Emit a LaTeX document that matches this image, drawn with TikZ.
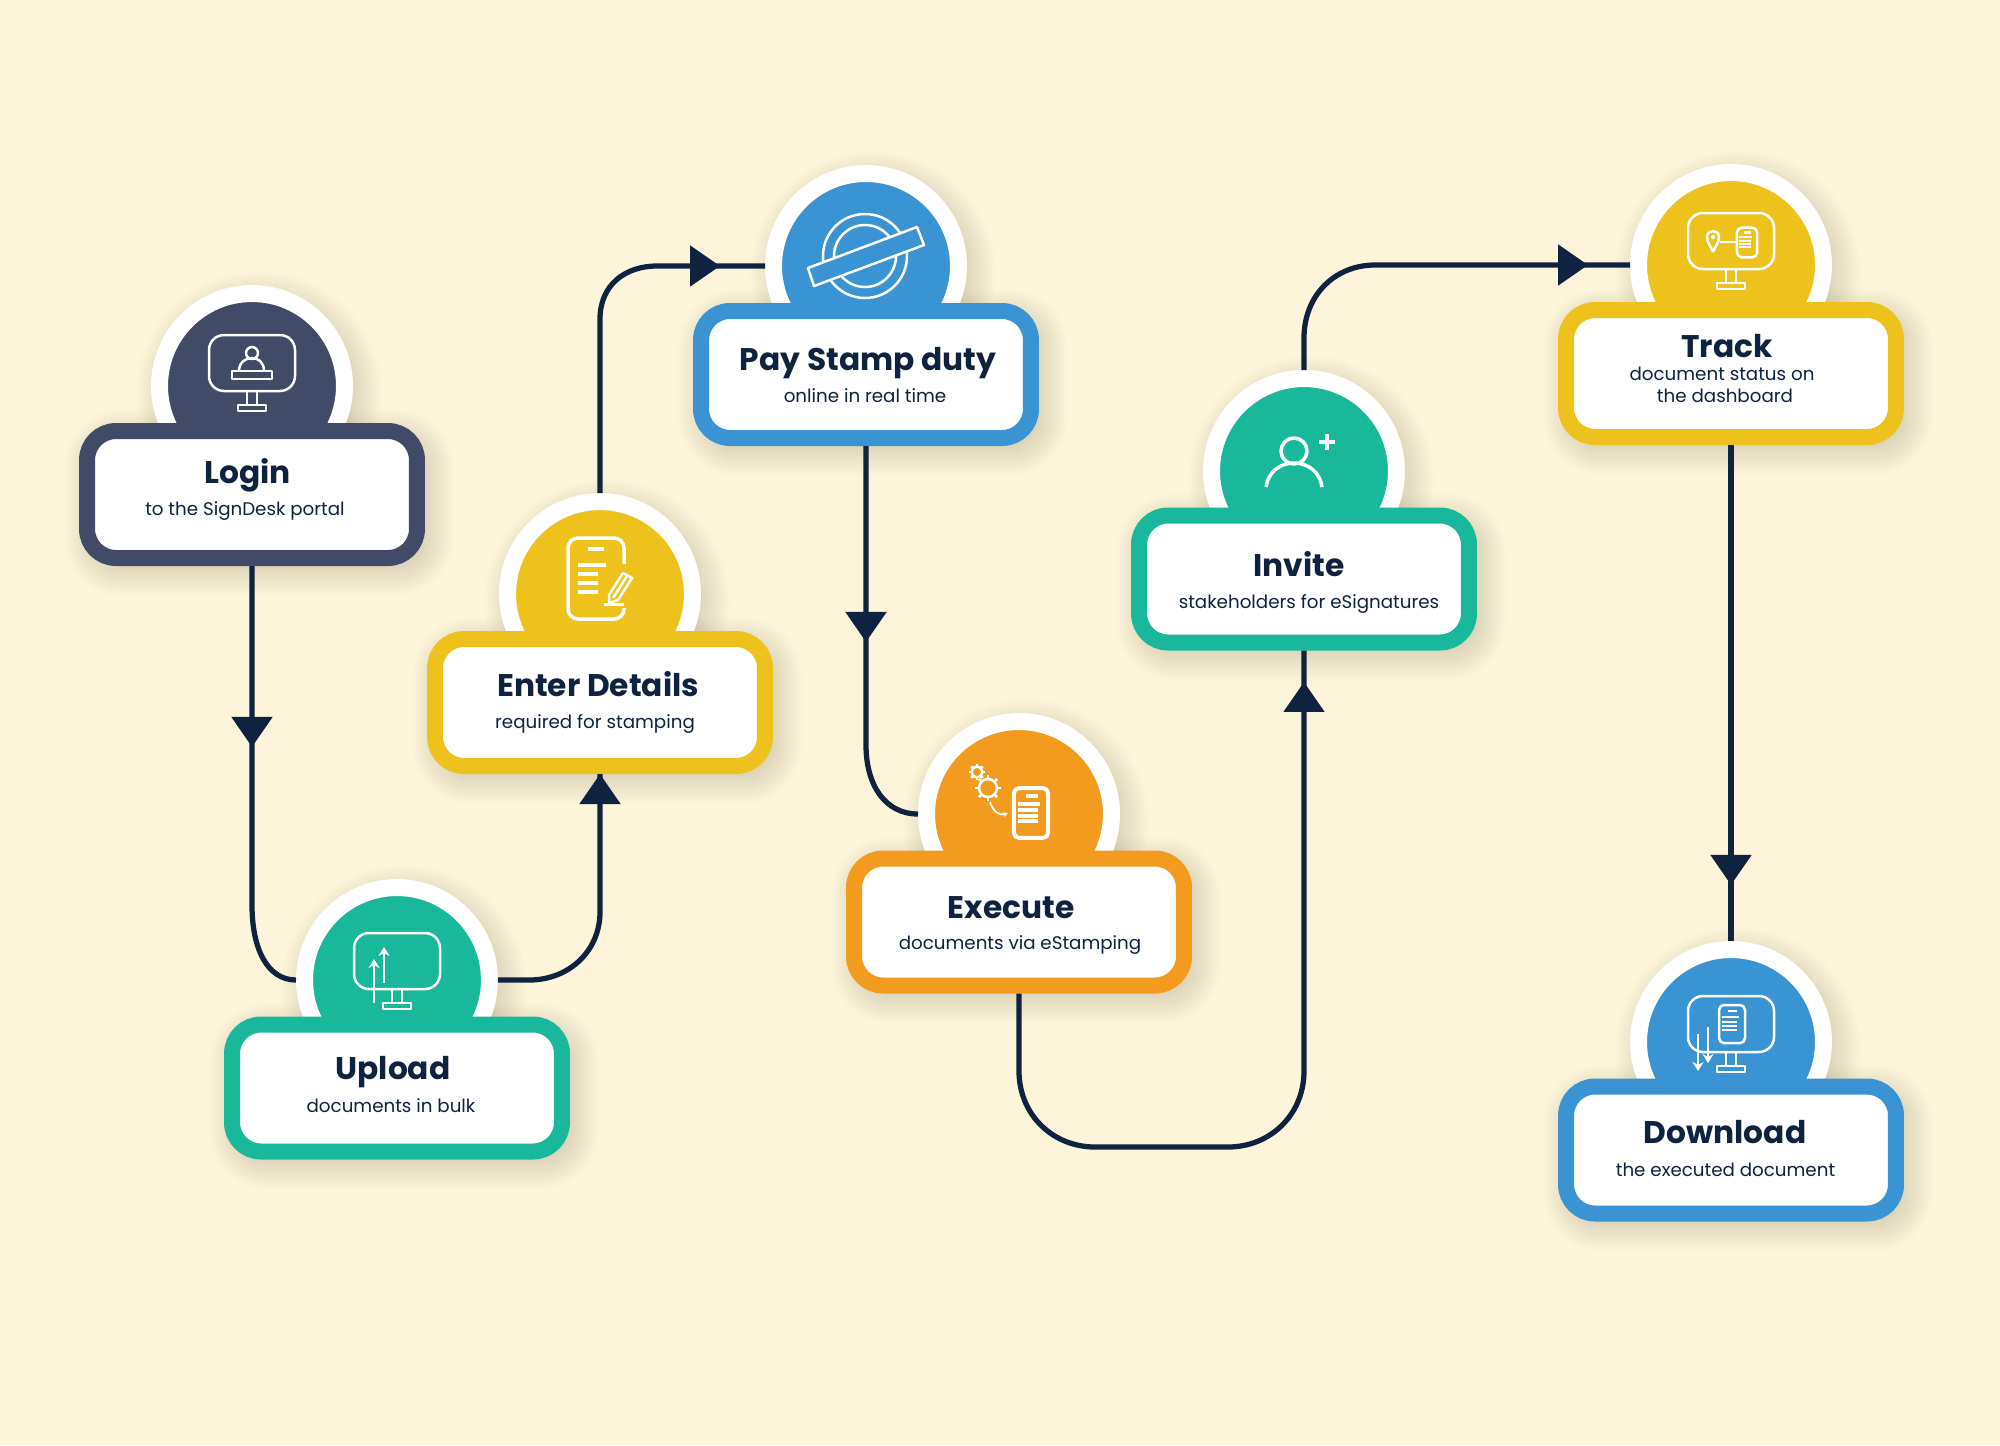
\documentclass[tikz,border=0pt]{standalone}
\usepackage{fontspec}
\setmainfont{Poppins}
\usetikzlibrary{calc, arrows.meta, decorations.markings}
\definecolor{cream}{HTML}{FDF5D9}
\definecolor{navy}{HTML}{0F2240}
\definecolor{slate}{HTML}{414A66}
\definecolor{gold}{HTML}{EEC21D}
\definecolor{sky}{HTML}{3A93D3}
\definecolor{teal}{HTML}{1AB89A}
\definecolor{amber}{HTML}{F29B1E}
\def\steplist{login/252/386/494.5/slate, upload/397/980/1088/teal, enter/600/594/702.5/gold, pay/866/266/374.5/sky, exec/1019/814/922/amber, invite/1304/471/579/teal, track/1731/265/373.5/gold, down/1731/1042/1150/sky}
\tikzstyle{tint}=[black,opacity=.008]
\tikzstyle{disc}=[circle,draw=white,line width=.34cm,minimum size=3.7cm,inner sep=0pt]
\tikzstyle{card}=[rectangle,fill=white,line width=.32cm,minimum width=6.6cm,minimum height=2.54cm,rounded corners=.58cm]
\tikzstyle{title}=[anchor=base,inner sep=0pt,text=navy,font=\fontsize{17.8}{19}\selectfont\bfseries]
\tikzstyle{sub}=[anchor=base,inner sep=0pt,text=navy,font=\fontsize{10.4}{12}\selectfont]
\tikzstyle{icon}=[draw=white,line join=round]
\tikzstyle{flow}=[color=navy,line width=.105cm,postaction={decorate},
  decoration={markings,mark=at position #1 with {\arrow{Triangle[length=.6cm,width=.8cm]}}}]
\tikzset{
  monitor/.pic={
    \draw[icon,rounded corners=.3cm] (-43,-28) rectangle (43,28);
    \draw[icon] (-5,28) -- (-5,42) (5,28) -- (5,42);
    \draw[icon] (-14,42) rectangle (14,48);
  },
  docpage/.pic={
    \draw[icon,rounded corners=.1cm] (-13,-19) rectangle (13,19);
    \draw[icon] (-4,-13) -- (5,-13) (-10,-7) -- (7,-7);
    \foreach \y in {-2,2,6} \draw[icon] (-10,\y) -- (5,\y);
  },
  gearwheel/.pic={
    \draw[icon] (0,0) circle[radius=1];
    \foreach \a in {0,45,...,315} \draw[icon] (\a:1) -- (\a:1.45);
  }
}
\begin{document}
\begin{tikzpicture}[x=.02cm,y=-.02cm,line width=.05cm]
		\fill[cream] (0,0) rectangle (2000,1445);
		\useasboundingbox (0,0) rectangle (2000,1445);

		% Soft shadows, laid under everything
		\foreach \s in {-8,-6,...,22} {
			\pgfmathsetmacro\rr{(37+\s)*.02}
			\foreach \name/\x/\yc/\yk/\col in \steplist {
				\fill[tint] (\x+7,\yc+8) circle[radius=101+\s];
				\fill[tint,rounded corners=\rr cm] (\x-173-\s+7,\yk-71.5-\s+8) rectangle (\x+173+\s+7,\yk+71.5+\s+8);
			}
		}

		% Draw the discs behind the cards
		\foreach \name/\x/\yc/\yk/\col in \steplist
		\node[disc,fill=\col] (\name-c) at (\x,\yc) {};

		% Draw the cards
		\foreach \name/\x/\yc/\yk/\col in \steplist
		\node[card,draw=\col] (\name) at (\x,\yk) {};

		% Titles
		\foreach \name/\x/\y/\txt in {login/247.5/483/Login, upload/393/1079/Upload, enter/598/696/Enter Details, pay/868/370/Pay Stamp duty, exec/1011/918/Execute, invite/1299/576/Invite, track/1727/357/Track, down/1725/1143/Download}
		\node[title] (\name-t) at (\x,\y) {\txt};

		% Captions
		\foreach \name/\x/\y/\txt in {login/245/515/to the SignDesk portal, upload/391/1112/documents in bulk, enter/595/728/required for stamping, pay/865/402/online in real time, exec/1020/949/documents via eStamping, invite/1309/608/stakeholders for eSignatures, track/1722/380/document status on, trackb/1725/402/the dashboard, down/1725.5/1176/the executed document}
		\node[sub] (\name-s) at (\x,\y) {\txt};

		% Connect the steps
		\draw[flow=3.62cm] (login.south) -- (252,905) .. controls (252,950) and (268,980) .. (upload-c.west);
		\draw[flow=1] (upload-c.east) -- (529,980) .. controls (570,980) and (600,950) .. (600,912) -- (enter.south);
		\draw[flow=-.9cm] (enter-c.north) -- (600,319) .. controls (600,285) and (625,266) .. (657,266) -- (pay-c.west);
		\draw[flow=3.92cm] (pay.south) -- (866,745) .. controls (866,785) and (885,814) .. (exec-c.west);
		\draw[flow=-.63cm] (exec.south) -- (1019,1071) .. controls (1019,1115) and (1053,1147) .. (1095,1147) -- (1228,1147) .. controls (1270,1147) and (1304,1115) .. (1304,1071) -- (invite.south);
		\draw[flow=-.84cm] (invite-c.north) -- (1304,338) .. controls (1304,295) and (1335,265) .. (1375,265) -- (track-c.west);
		\draw[flow=8.8cm] (track.south) -- (down-c.north);

		% Login icon
		\pic at (252,363) {monitor};
		\draw[icon] (252,353) circle[radius=6];
		\draw[icon] (239,371) .. controls (239,362) and (246,358) .. (252,358) .. controls (258,358) and (264,362) .. (264,371);
		\draw[icon] (232,371) rectangle (272,379);

		% Upload icon
		\pic at (397,961) {monitor};
		\draw[icon,-{Stealth[length=.18cm,width=.22cm]}] (374,1003) -- (374,959);
		\draw[icon,-{Stealth[length=.18cm,width=.22cm]}] (384,983) -- (384,947);

		% Enter Details icon
		\draw[icon,line width=.07cm,rounded corners=.2cm] (624,564) -- (624,538) -- (568,538) -- (568,619) -- (624,619) -- (624,608);
		\draw[icon,line width=.07cm] (588,549) -- (604,549) (578,565) -- (606,565) (578,574) -- (598,574) (578,583) -- (598,583) (578,592) -- (598,592);
		\draw[icon] (623,573) -- (632,578) -- (618,600) -- (609,603) -- (609,595) -- cycle (627,576) -- (613,598);
		\draw[icon,line width=.06cm] (604,604) -- (624,604);

		% Pay Stamp duty icon
		\draw[icon] (865,256) circle[radius=42];
		\draw[icon] (865,256) circle[radius=31];
		\draw[icon,fill=sky] (808,268) -- (917,227) -- (924,245) -- (814,286) -- cycle;

		% Execute icon
		\pic[scale=9] at (988,788) {gearwheel};
		\pic[scale=5.5] at (977,772) {gearwheel};
		\draw[icon,line width=.035cm,-{Stealth[length=.1cm,width=.1cm]}] (990,802) .. controls (993,812) and (1000,816) .. (1008,813);
		\pic[scale=1.31,line width=.08cm] at (1031,813) {docpage};

		% Invite icon
		\draw[icon,line width=.07cm] (1294,451) circle[radius=13];
		\draw[icon,line width=.07cm] (1266,487) .. controls (1268,472) and (1280,463) .. (1294,463) .. controls (1308,463) and (1320,472) .. (1322,487);
		\draw[icon,line width=.08cm] (1319,442) -- (1335,442) (1327,434) -- (1327,450);

		% Track icon
		\pic at (1731,241) {monitor};
		\draw[icon] (1713,252) .. controls (1710,245) and (1707,242) .. (1707,237) .. controls (1707,229) and (1719,229) .. (1719,237) .. controls (1719,242) and (1716,245) .. (1713,252);
		\draw[icon] (1713,237) circle[radius=1];
		\draw[icon] (1720,242) -- (1737,242);
		\pic[scale=.78] at (1747,242.5) {docpage};

		% Download icon
		\pic at (1731,1024) {monitor};
		\draw[icon,-{Stealth[length=.18cm,width=.22cm]}] (1698,1034) -- (1698,1071);
		\draw[icon,-{Stealth[length=.18cm,width=.22cm]}] (1708,1027) -- (1708,1063);
		\pic at (1732,1024) {docpage};
\end{tikzpicture}
\end{document}
